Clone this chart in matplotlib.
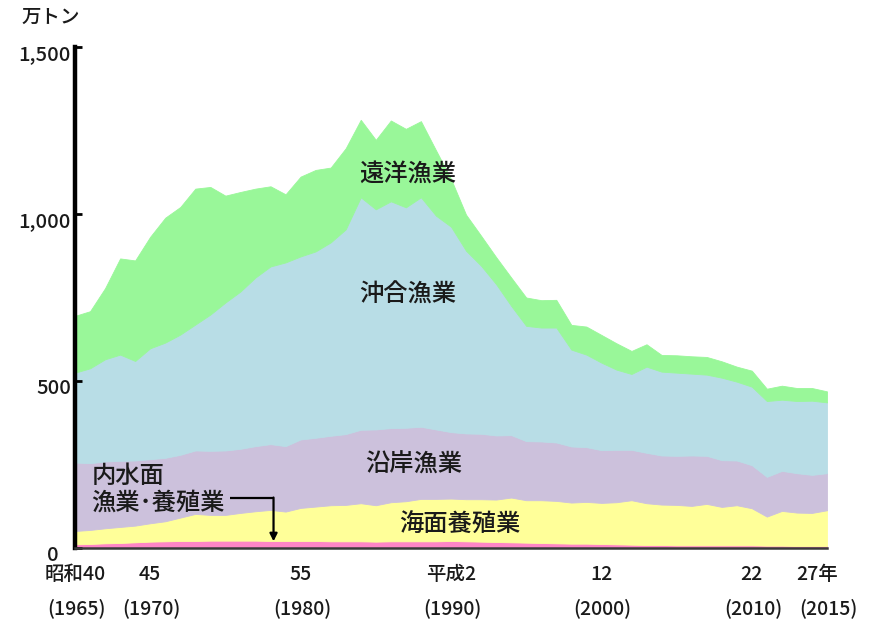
import matplotlib
matplotlib.use("Agg")
import matplotlib.pyplot as plt
from matplotlib.transforms import ScaledTranslation, blended_transform_factory

plt.rcParams["font.family"] = ["Noto Sans CJK JP", "DejaVu Sans"]

# 漁業・養殖業生産量の推移（万トン）
years = list(range(1965, 2016))

inland = [11, 12, 14, 15, 17, 19, 20, 21, 21, 22,
          22, 22, 22, 21, 21, 21, 21, 20, 20, 20,
          19, 20, 20, 20, 20, 21, 20, 19, 18, 17,
          16, 15, 14, 13, 13, 12, 11, 10, 9, 9,
          8, 8, 8, 8, 8, 8, 7, 7, 6, 6, 6]

aquaculture = [40, 42, 45, 48, 50, 55, 60, 70, 81, 77,
               77, 83, 88, 93, 88, 99, 103, 108, 109, 114,
               109, 117, 120, 127, 127, 127, 126, 127, 127, 134,
               127, 128, 127, 123, 125, 123, 126, 133, 125, 121,
               121, 118, 124, 115, 120, 111, 87, 104, 100, 99, 107]

coastal = [205, 200, 200, 198, 195, 192, 190, 188, 190, 192,
           193, 192, 195, 197, 196, 205, 206, 208, 212, 220,
           227, 222, 220, 216, 208, 199, 197, 196, 192, 187,
           177, 176, 175, 168, 164, 158, 157, 151, 151, 147,
           147, 151, 144, 140, 134, 129, 119, 120, 118, 114, 111]

offshore = [269, 284, 306, 318, 298, 332, 345, 360, 377, 408,
            443, 471, 505, 532, 550, 548, 558, 579, 613, 696,
            659, 679, 660, 687, 640, 615, 547, 503, 453, 387,
            345, 341, 344, 290, 277, 262, 240, 227, 258, 251,
            249, 245, 243, 247, 236, 235, 227, 213, 216, 222, 212]

distant = [170, 171, 213, 288, 301, 334, 374, 382, 407, 382,
           320, 298, 266, 240, 204, 239, 244, 224, 243, 232,
           208, 242, 235, 228, 196, 143, 108, 90, 81, 85,
           85, 82, 83, 74, 84, 83, 79, 69, 67, 50,
           52, 52, 53, 49, 45, 48, 37, 42, 39, 38, 33]

layer_colors = ["#FF85C6", "#FFFF99", "#CCC1DC", "#B8DDE6", "#99F799"]

y_ticks = [0, 500, 1000, 1500]
y_tick_labels = ["0", "500", "1,000", "1,500"]

label_years = [1965, 1970, 1980, 1990, 2000, 2010, 2015]
era_labels = ["昭和40", "45", "55", "平成2", "12", "22", "27年"]
ad_labels = ["(1965)", "(1970)", "(1980)", "(1990)", "(2000)", "(2010)", "(2015)"]

text_color = "#1a1a1a"
weight = "medium"

fig = plt.figure(figsize=(8.77, 6.21), dpi=100)
ax = fig.add_axes([75 / 877, 73 / 621, 752 / 877, 501 / 621])

ax.stackplot(years, inland, aquaculture, coastal, offshore, distant,
             colors=layer_colors, linewidth=0.6, edgecolor="face")

ax.set_xlim(1965, 2015)
ax.set_ylim(0, 1500)

for side in ("top", "right"):
    ax.spines[side].set_visible(False)
ax.spines["left"].set_linewidth(3.2)
ax.spines["left"].set_color("black")
ax.spines["bottom"].set_linewidth(1.8)
ax.spines["bottom"].set_color("#3a3a3a")
ax.spines["left"].set_zorder(5)
ax.spines["bottom"].set_zorder(5)

ax.set_xticks([])
ax.set_yticks(y_ticks, y_tick_labels)
ax.tick_params(axis="y", direction="in", length=5, width=2, color="black",
               pad=3, labelsize=14.5, labelcolor=text_color)
for i, lab in enumerate(ax.get_yticklabels()):
    lab.set_fontweight(weight)
    dx = -9 / 72 if i == 0 else 0
    lab.set_transform(lab.get_transform()
                      + ScaledTranslation(dx, -4 / 72, fig.dpi_scale_trans))

# 年次ラベル（元号・西暦の2段）
trans = blended_transform_factory(ax.transData, ax.transAxes)
for yr, era, ad in zip(label_years, era_labels, ad_labels):
    dx = -7 if yr == 2015 else 0
    ax.annotate(era, xy=(yr, 0), xycoords=trans, xytext=(dx, -19),
                textcoords="offset points", ha="center", va="center",
                fontsize=14, fontweight=weight, color=text_color,
                annotation_clip=False)
    ax.annotate(ad, xy=(yr, 0), xycoords=trans, xytext=(1, -43.5),
                textcoords="offset points", ha="center", va="center",
                fontsize=14, fontweight=weight, color=text_color,
                annotation_clip=False)

fig.text(22 / 877, 1 - 17 / 621, "万トン", ha="left", va="center",
         fontsize=14, fontweight=weight, color=text_color)

# 各区分の名称
area_kw = dict(ha="center", va="center", fontsize=17.5, fontweight=weight,
               color=text_color)
ax.text(1987.1, 1119, "遠洋漁業", **area_kw)
ax.text(1987.1, 759, "沖合漁業", **area_kw)
ax.text(1987.5, 249, "沿岸漁業", **area_kw)
ax.text(1990.6, 69, "海面養殖業", **area_kw)

left_kw = dict(ha="left", va="center", fontsize=17.5, fontweight=weight,
               color=text_color)
ax.text(1966.1, 216, "内水面", **left_kw)
ax.text(1966.1, 135, "漁業･養殖業", **left_kw)

# 内水面を指す矢印
ax.plot([1975.3, 1978.2], [150, 150], color="black", lw=1.6, solid_capstyle="butt")
ax.annotate("", xy=(1978.2, 20), xytext=(1978.2, 151),
            arrowprops=dict(arrowstyle="-|>", color="black", lw=1.6,
                            mutation_scale=11, shrinkA=0, shrinkB=0))

fig.savefig("out.png", dpi=100, facecolor="white")
